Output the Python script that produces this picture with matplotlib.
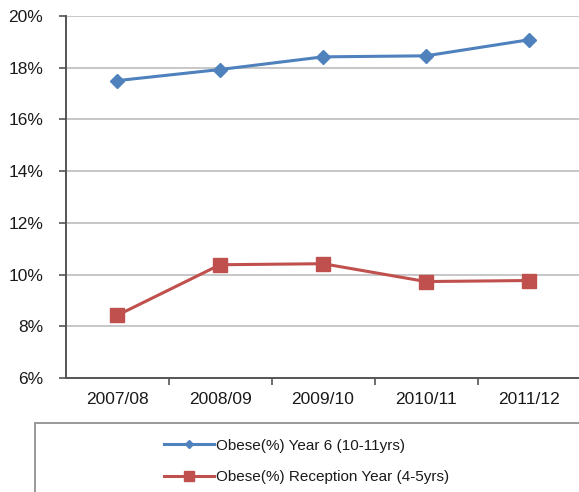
import matplotlib
matplotlib.use("Agg")
import matplotlib.pyplot as plt
from matplotlib.patches import Rectangle
from matplotlib.ticker import FuncFormatter, FixedLocator

plt.rcParams['font.family'] = ['Liberation Sans', 'DejaVu Sans']

years = ["2007/08", "2008/09", "2009/10", "2010/11", "2011/12"]
year6 = [17.5, 17.93, 18.42, 18.46, 19.08]
reception = [8.42, 10.38, 10.42, 9.73, 9.77]

W, H = 579, 492
fig = plt.figure(figsize=(W / 100, H / 100), dpi=100)

left, right, top, bottom = 65.5, 580.5, 16, 378
ax = fig.add_axes([left / W, 1 - bottom / H, (right - left) / W, (bottom - top) / H])

x = range(len(years))
l1, = ax.plot(x, year6, color="#4F81BD", lw=2.2, marker="D", ms=7.5,
              label="Obese(%) Year 6 (10-11yrs)")
l2, = ax.plot(x, reception, color="#C0504D", lw=2.2, marker="s", ms=10,
              label="Obese(%) Reception Year (4-5yrs)")

ax.set_xlim(-0.5, len(years) - 0.5)
ax.set_ylim(6, 20)
ax.set_yticks(range(6, 21, 2))
ax.yaxis.set_major_formatter(FuncFormatter(lambda v, p: f"{int(v)}%"))
ax.yaxis.grid(True, color="#BDBDBD", lw=1.2)
ax.set_axisbelow(True)

ax.set_xticks(list(x))
ax.set_xticklabels(years)
ax.xaxis.set_minor_locator(FixedLocator([i + 0.5 for i in range(len(years) - 1)]))
ax.tick_params(axis="x", which="major", length=0, pad=10, labelsize=12.5, colors="#1a1a1a")
ax.tick_params(axis="x", which="minor", length=5, width=1.2, color="#555555", direction="out")
ax.tick_params(axis="y", length=5, width=1.2, color="#555555", pad=11, labelsize=12.5,
               labelcolor="#1a1a1a")

for s in ["top", "right"]:
    ax.spines[s].set_visible(False)
for s in ["left", "bottom"]:
    ax.spines[s].set_color("#555555")
    ax.spines[s].set_linewidth(1.4)

# Legend box below the plot
fig.patches.append(Rectangle((35 / W, 1 - 500 / H), (600 - 35) / W, (500 - 423) / H,
                             transform=fig.transFigure, fill=False,
                             edgecolor="#999999", lw=1.4, clip_on=False))
leg = fig.legend([l1, l2], [l1.get_label(), l2.get_label()], loc="upper left",
                 bbox_to_anchor=(150 / W, 1 - 425 / H), frameon=False,
                 fontsize=11, handlelength=3.3, labelspacing=1.15,
                 handletextpad=0.15, labelcolor="#1a1a1a")
leg.legend_handles[0].set_markersize(4.5)
leg.legend_handles[1].set_markersize(6.5)

fig.savefig("out.png", dpi=100)
